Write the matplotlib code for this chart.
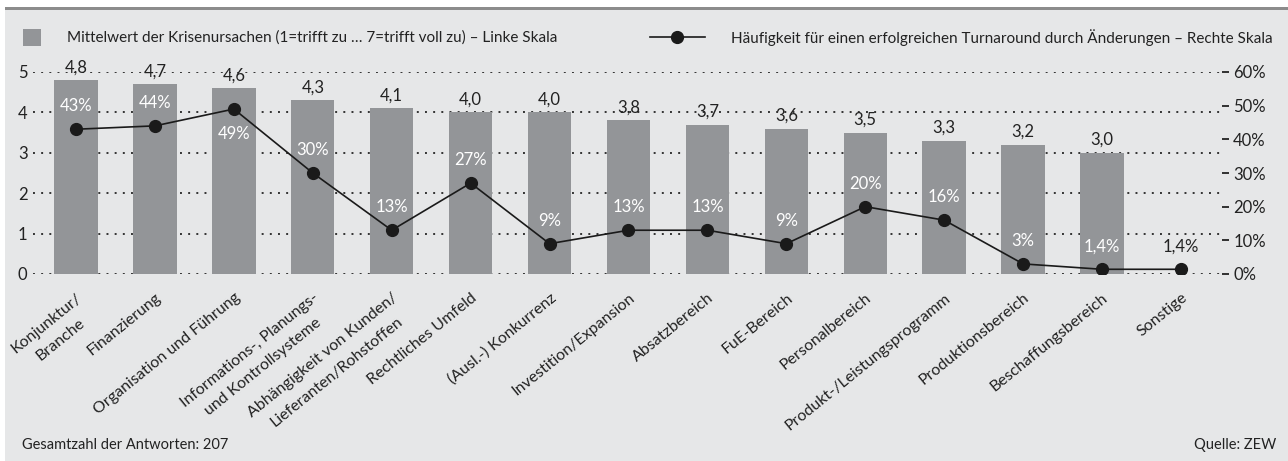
import matplotlib
matplotlib.use("Agg")
import matplotlib.pyplot as plt
from matplotlib import font_manager
from matplotlib.patches import Rectangle
from matplotlib.lines import Line2D
import matplotlib.transforms as mtransforms

# ---------------- data ----------------
categories = [
    "Konjunktur/\nBranche", "Finanzierung", "Organisation und Führung",
    "Informations-, Planungs-\nund Kontrollsysteme",
    "Abhängigkeit von Kunden/\nLieferanten/Rohstoffen",
    "Rechtliches Umfeld", "(Ausl.-) Konkurrenz", "Investition/Expansion",
    "Absatzbereich", "FuE-Bereich", "Personalbereich",
    "Produkt-/Leistungsprogramm", "Produktionsbereich",
    "Beschaffungsbereich", "Sonstige",
]
mean_values = [4.8, 4.7, 4.6, 4.3, 4.1, 4.0, 4.0, 3.8, 3.7, 3.6, 3.5, 3.3, 3.2, 3.0]
turnaround_pct = [43, 44, 49, 30, 13, 27, 9, 13, 13, 9, 20, 16, 3, 1.4, 1.4]
left_ticks = [0, 1, 2, 3, 4, 5]
right_ticks = [0, 10, 20, 30, 40, 50, 60]
legend_bar = "Mittelwert der Krisenursachen (1=trifft zu … 7=trifft voll zu) – Linke Skala"
legend_line = "Häufigkeit für einen erfolgreichen Turnaround durch Änderungen – Rechte Skala"
footer_left = "Gesamtzahl der Antworten: 207"
footer_right = "Quelle: ZEW"

# ---------------- style ----------------
available = {f.name for f in font_manager.fontManager.ttflist}
for fam in ["Liberation Sans Narrow", "Lato", "Open Sans", "DejaVu Sans"]:
    if fam in available:
        FONT = fam
        break
plt.rcParams["font.family"] = [FONT, "DejaVu Sans"]
FS = 11

BG = "#e6e7e8"
BAR = "#939598"
DARK = "#222222"

W, H = 1288, 461
fig = plt.figure(figsize=(W / 100, H / 100), dpi=100, facecolor="white")

def fx(px):
    return px / W

def fy(py):
    return 1 - py / H

# background panel and top rule
fig.patches.append(Rectangle((fx(5), 0), 1 - fx(5), fy(10), transform=fig.transFigure,
                             facecolor=BG, edgecolor="none", zorder=-10))
fig.patches.append(Rectangle((fx(5), fy(10.5)), 1 - fx(5), fy(7.5) - fy(10.5),
                             transform=fig.transFigure, facecolor="#8c8c8c",
                             edgecolor="none", zorder=-9))

ax = fig.add_axes([fx(33), fy(274), fx(1222) - fx(33), fy(72) - fy(274)])
ax.set_facecolor("none")
ax2 = ax.twinx()

x = list(range(len(categories)))
ax.bar(x[:len(mean_values)], mean_values, width=0.55, color=BAR, zorder=2)
ax.set_xlim(-0.545, 14.52)
ax.set_ylim(0, 5)
ax.set_yticks(left_ticks)
ax.set_yticklabels([str(t) for t in left_ticks])
ax.tick_params(axis="y", length=0, pad=4, labelsize=FS + 1, colors=DARK)
ax.set_axisbelow(True)
ax.grid(axis="y", color="#333333", linestyle=(0, (1, 3.2)), linewidth=1.4, zorder=0)
ax.grid(axis="x", visible=False)

for xi, v in zip(x, mean_values):
    ax.annotate(f"{v:.1f}".replace(".", ","), (xi, v), xytext=(0, 3.5),
                textcoords="offset points", ha="center", va="bottom",
                fontsize=FS + 1, color=DARK, annotation_clip=False)

ax.set_xticks(x)
offset = mtransforms.ScaledTranslation(6 / 100, 0, fig.dpi_scale_trans)
ax.set_xticklabels(categories, rotation=39, ha="right", va="top",
                   rotation_mode="anchor", fontsize=FS + 0.5, color=DARK,
                   multialignment="center", linespacing=1.65)
for lab in ax.get_xticklabels():
    lab.set_transform(lab.get_transform() + offset)
ax.tick_params(axis="x", length=0, pad=12)

for s in ax.spines.values():
    s.set_visible(False)
for s in ax2.spines.values():
    s.set_visible(False)

ax2.plot(x, turnaround_pct, color="#1a1a1a", linewidth=1.2, marker="o",
         markersize=8.5, markerfacecolor="#1a1a1a", zorder=5)
ax2.set_ylim(0, 60)
ax2.set_yticks(right_ticks)
ax2.set_yticklabels([f"{t}%" for t in right_ticks])
ax2.tick_params(axis="y", length=5, width=1.3, pad=3, labelsize=FS + 1,
                colors=DARK)

for i, (xi, v) in enumerate(zip(x, turnaround_pct)):
    lab = (f"{v:.1f}".replace(".", ",") if v != int(v) else f"{int(v)}") + "%"
    on_bar = i < len(mean_values)
    dy = -18 if v == max(turnaround_pct) else 16.5
    ax2.annotate(lab, (xi, v), xytext=(0, dy), textcoords="offset points",
                 ha="center", va="center", fontsize=FS + 1,
                 color="white" if on_bar else DARK, zorder=6)

# legend
fig.patches.append(Rectangle((fx(23), fy(46)), fx(41) - fx(23), fy(29) - fy(46),
                             transform=fig.transFigure, facecolor=BAR,
                             edgecolor="none"))
fig.text(fx(67), fy(37.5), legend_bar, fontsize=FS, color=DARK, va="center", ha="left")
fig.add_artist(Line2D([fx(650), fx(705)], [fy(37.5), fy(37.5)], transform=fig.transFigure,
                      color="#1a1a1a", linewidth=1.2))
fig.add_artist(Line2D([fx(677)], [fy(37.5)], transform=fig.transFigure,
                      color="#1a1a1a", marker="o", markersize=8.5))
fig.text(fx(731), fy(37.5), legend_line, fontsize=FS, color=DARK, va="center", ha="left")

fig.text(fx(22), fy(445), footer_left, fontsize=FS - 0.5, color=DARK, va="center", ha="left")
fig.text(fx(1276), fy(445), footer_right, fontsize=FS - 0.5, color=DARK, va="center", ha="right")

fig.savefig("out.png", dpi=100, facecolor="white")
